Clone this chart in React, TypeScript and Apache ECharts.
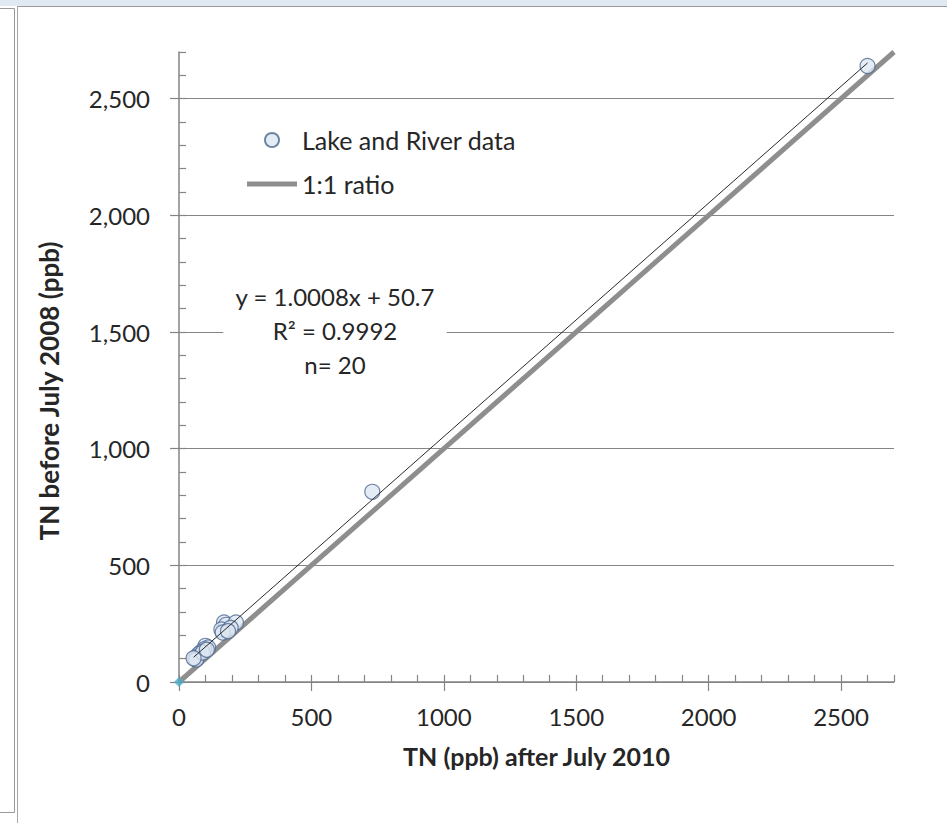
import React, { useEffect, useRef } from "react";
import * as echarts from "echarts";

// ---- data ----
const obsX = [2600, 730, 170, 178, 215, 160, 195, 165, 185, 100, 110, 95, 85, 75, 70, 60, 65, 90, 105, 55];
const obsY = [2640, 815, 255, 245, 255, 225, 232, 212, 218, 155, 148, 140, 130, 120, 110, 100, 96, 126, 138, 102];
const ratioX = [0, 2700];
const ratioY = [0, 2700];
const trendX = [55, 2600];
const trendY = [106, 2653];
const majorTicks = [0, 500, 1000, 1500, 2000, 2500];
const axisMin = 0;
const axisMax = 2700;
const minorStep = 100;
const equationLines = ["y = 1.0008x + 50.7", "R\u00b2 = 0.9992", "n= 20"];
const seriesNames = ["Lake and River data", "1:1 ratio"];
const xTitle = "TN (ppb) after July 2010";
const yTitle = "TN before July 2008 (ppb)";

const FONT = "Lato";
const TXT = "#262626";
const AX = "#858585";

export default function App() {
  const ref = useRef<HTMLDivElement>(null);
  useEffect(() => {
    if (!ref.current) return;
    const chart = echarts.init(ref.current, undefined, { renderer: "svg" });
    const baseX = {
      type: "value" as const,
      min: axisMin,
      max: axisMax,
    };
    chart.setOption({
      animation: false,
      backgroundColor: "#ffffff",
      grid: { left: 179, right: 53, top: 52, bottom: 141, containLabel: false },
      legend: {
        orient: "vertical",
        left: 242,
        top: 122,
        itemWidth: 50,
        itemHeight: 14,
        itemGap: 18,
        symbolKeepAspect: true,
        textStyle: { fontFamily: FONT, fontSize: 25, color: TXT, lineHeight: 26 },
        data: [
          { name: seriesNames[0], icon: "circle" },
          { name: seriesNames[1], icon: "path://M0,0L50,0L50,5L0,5Z" },
        ],
      },
      xAxis: [
        {
          ...baseX,
          position: "bottom",
          name: xTitle,
          nameLocation: "middle",
          nameGap: 61,
          nameTextStyle: { fontFamily: FONT, fontSize: 25, fontWeight: "bold", color: TXT },
          axisLine: { show: true, lineStyle: { color: AX, width: 1.5 } },
          axisTick: { show: true, inside: false, length: 9, customValues: majorTicks, lineStyle: { color: AX, width: 1.2 } },
          axisLabel: {
            show: true,
            customValues: majorTicks,
            margin: 22,
            fontFamily: FONT,
            fontSize: 24,
            color: TXT,
            formatter: (v: number) => String(v),
          },
          splitLine: { show: false },
        },
        {
          ...baseX,
          position: "bottom",
          interval: minorStep,
          axisLine: { show: false },
          axisTick: { show: true, inside: true, length: 7, lineStyle: { color: AX, width: 1.2 } },
          axisLabel: { show: false },
          splitLine: { show: false },
        },
      ],
      yAxis: [
        {
          ...baseX,
          position: "left",
          name: yTitle,
          nameLocation: "middle",
          nameGap: 117,
          nameRotate: 90,
          nameTextStyle: {
            fontFamily: FONT,
            fontSize: 26,
            fontWeight: "bold",
            color: TXT,
            padding: [0, 48, 0, 0],
          },
          axisLine: { show: true, lineStyle: { color: AX, width: 1.5 } },
          axisTick: { show: true, inside: false, length: 9, customValues: majorTicks, lineStyle: { color: AX, width: 1.2 } },
          axisLabel: {
            show: true,
            customValues: majorTicks,
            margin: 29,
            fontFamily: FONT,
            fontSize: 24,
            color: TXT,
            formatter: (v: number) => v.toLocaleString("en-US"),
          },
          splitLine: { show: true, lineStyle: { color: AX, width: 1.2 } },
        },
        {
          ...baseX,
          position: "left",
          interval: minorStep,
          axisLine: { show: false },
          axisTick: { show: true, inside: true, length: 7, lineStyle: { color: AX, width: 1.2 } },
          axisLabel: { show: false },
          splitLine: { show: false },
        },
      ],
      series: [
        {
          name: seriesNames[1],
          type: "line",
          xAxisIndex: 0,
          yAxisIndex: 0,
          data: ratioX.map((x, i) => [x, ratioY[i]]),
          symbol: "none",
          lineStyle: { color: "#8e8e8e", width: 5 },
          itemStyle: { color: "#8e8e8e" },
          z: 2,
          silent: true,
        },
        {
          name: "origin",
          type: "scatter",
          data: [[ratioX[0], ratioY[0]]],
          symbol: "diamond",
          symbolSize: 10,
          itemStyle: { color: "#4bacc6" },
          z: 3,
          silent: true,
        },
        {
          name: seriesNames[0],
          type: "scatter",
          data: obsX.map((x, i) => [x, obsY[i]]),
          symbol: "circle",
          symbolSize: 15,
          itemStyle: { color: "#dde7f3", borderColor: "#4e6890", borderWidth: 1.2 },
          z: 4,
          silent: true,
        },
        {
          name: "trend",
          type: "line",
          data: trendX.map((x, i) => [x, trendY[i]]),
          symbol: "none",
          lineStyle: { color: "#2a2a2a", width: 1 },
          z: 5,
          silent: true,
        },
      ],
      graphic: [
        { type: "rect", z: 10, shape: { x: 0, y: 0, width: 947, height: 6 }, style: { fill: "#dfe8f3" } },
        { type: "line", z: 10, shape: { x1: 17, y1: 6.5, x2: 947, y2: 6.5 }, style: { stroke: "#9a9a9a", lineWidth: 1 } },
        { type: "line", z: 10, shape: { x1: 17.5, y1: 6, x2: 17.5, y2: 823 }, style: { stroke: "#a6a6a6", lineWidth: 1 } },
        {
          type: "polyline",
          z: 10,
          shape: { points: [[0, 8.5], [14.5, 8.5], [14.5, 812.5], [0, 812.5]] },
          style: { stroke: "#9a9a9a", lineWidth: 1, fill: "none" },
        },
        {
          type: "text",
          z: 1,
          x: 335,
          y: 277,
          style: {
            text: equationLines.join("\n"),
            fontFamily: FONT,
            fontSize: 24,
            lineHeight: 34,
            fill: TXT,
            align: "center",
            verticalAlign: "top",
            backgroundColor: "#ffffff",
            padding: [2, 12, 2, 12],
          },
        },
      ],
    });
    return () => chart.dispose();
  }, []);
  return (
    <div
      ref={ref}
      style={{ position: "fixed", left: 0, top: 0, width: 947, height: 823 }}
    />
  );
}
